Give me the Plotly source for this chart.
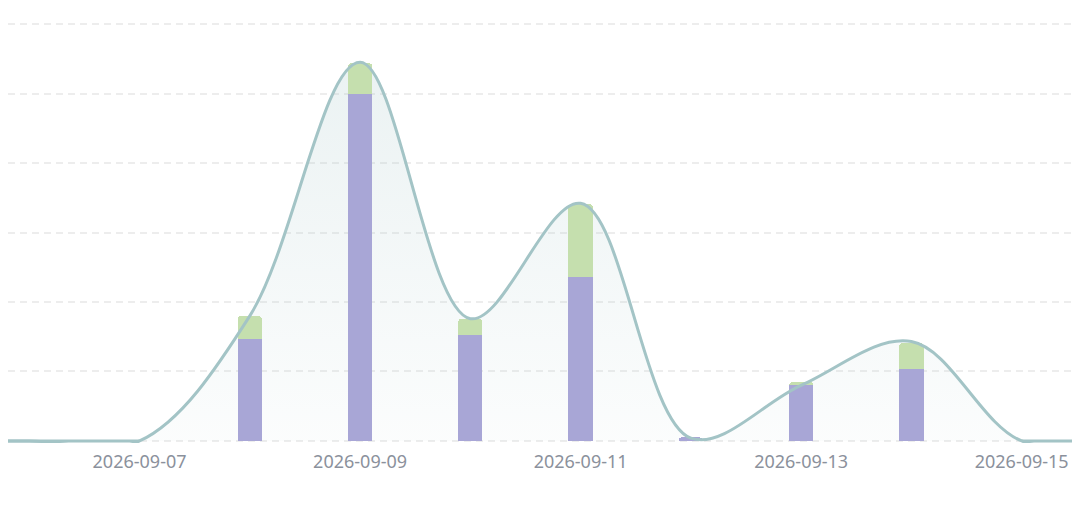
import plotly.graph_objects as go

bar_dates = ["2026-09-08", "2026-09-09", "2026-09-10", "2026-09-11",
             "2026-09-12", "2026-09-13", "2026-09-14"]
purple_vals = [1.46, 4.99, 1.53, 2.36, 0.05, 0.81, 1.03]
green_vals = [0.34, 0.45, 0.23, 1.05, 0.0, 0.04, 0.38]

line_dates = ["2026-09-05", "2026-09-06", "2026-09-07", "2026-09-08", "2026-09-09",
              "2026-09-10", "2026-09-11", "2026-09-12", "2026-09-13",
              "2026-09-14", "2026-09-15", "2026-09-16"]
line_vals = [0, 0, 0, 1.80, 5.45, 1.76, 3.42, 0.04, 0.80, 1.43, 0, 0]

# flat zero stretches at both ends of the line
flat_left_dates = ["2026-09-05", "2026-09-07"]
flat_right_dates = ["2026-09-15", "2026-09-16"]
flat_vals = [0, 0]

tick_vals = ["2026-09-07", "2026-09-09", "2026-09-11", "2026-09-13", "2026-09-15"]

DAY_MS = 86400000
bar_width = 0.22 * DAY_MS
LINE_COLOR = "#a3c4c6"
Y_RANGE = [-0.03, 6.03]

fig = go.Figure()

# area fill (below bars)
fig.add_trace(go.Scatter(
    x=line_dates, y=line_vals, mode="lines",
    line=dict(shape="spline", smoothing=1.0, width=0, color="rgba(0,0,0,0)"),
    fill="tozeroy",
    fillgradient=dict(type="vertical", start=0, stop=5.5,
                      colorscale=[[0, "rgba(163,196,198,0.04)"], [1, "rgba(163,196,198,0.22)"]]),
    hoverinfo="skip", showlegend=False, yaxis="y",
))

fig.add_trace(go.Bar(x=bar_dates, y=purple_vals, marker=dict(color="#a8a6d6", line=dict(width=0)),
                     width=bar_width, showlegend=False, yaxis="y2"))
fig.add_trace(go.Bar(x=bar_dates, y=green_vals, marker=dict(color="#c5dfae", line=dict(width=0)),
                     width=bar_width, showlegend=False, yaxis="y2"))

# line on top of bars
fig.add_trace(go.Scatter(
    x=line_dates, y=line_vals, mode="lines",
    line=dict(shape="spline", smoothing=1.0, width=3, color=LINE_COLOR),
    showlegend=False, hoverinfo="skip", yaxis="y3",
))
for fx in (flat_left_dates, flat_right_dates):
    fig.add_trace(go.Scatter(
        x=fx, y=flat_vals, mode="lines",
        line=dict(width=3, color=LINE_COLOR),
        showlegend=False, hoverinfo="skip", yaxis="y3", cliponaxis=False,
    ))

hidden_y = dict(range=Y_RANGE, showticklabels=False, showgrid=False,
                zeroline=False, showline=False, ticks="", overlaying="y")

fig.update_layout(
    width=1064, height=494,
    margin=dict(l=0, r=0, t=14, b=59),
    paper_bgcolor="white", plot_bgcolor="white",
    barmode="stack", barcornerradius=4,
    font=dict(family="Noto Sans", size=18, color="#8b919c"),
    xaxis=dict(
        type="date",
        range=["2026-09-05 19:22", "2026-09-15 10:57"],
        tickvals=tick_vals, ticktext=tick_vals,
        showgrid=False, zeroline=False, showline=False,
        ticks="", ticklabelstandoff=6,
        tickfont=dict(size=18, color="#8b919c"),
    ),
    yaxis=dict(
        range=Y_RANGE, dtick=1, tick0=0, showticklabels=False,
        showgrid=True, gridcolor="#ededed", gridwidth=1.5, griddash="7px,5px",
        zeroline=False, showline=False, ticks="",
    ),
    yaxis2=hidden_y,
    yaxis3=hidden_y,
)

fig.write_html("out.html")
